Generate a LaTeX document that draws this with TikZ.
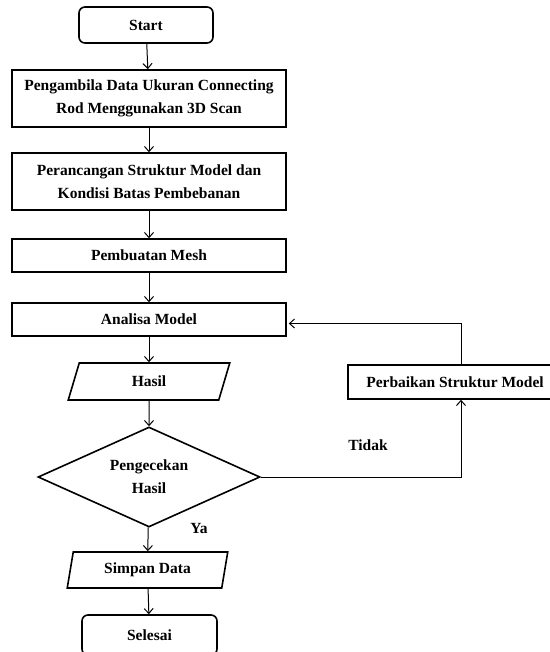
\documentclass[tikz,border=0pt]{standalone}
\usepackage{fontspec}
\setmainfont{Liberation Serif}
\usetikzlibrary{shapes.geometric,arrows.meta}

\tikzset{
  teks/.style={font=\fontsize{15.5}{23}\selectfont\bfseries, align=center},
  proses/.style={teks, draw, line width=1.6pt, minimum width=274pt, minimum height=33pt, inner sep=0pt},
  terminal/.style={proses, rounded corners=6pt, minimum width=134pt, minimum height=36pt},
  datanya/.style={teks, draw, line width=1.6pt, trapezium, trapezium left angle=76, trapezium right angle=104,
    trapezium stretches=true, minimum width=162pt, minimum height=37pt, inner sep=0pt},
  keputusan/.style={teks, draw, line width=1.6pt, diamond, shape aspect=2.2, minimum width=222pt, minimum height=100pt, inner sep=0pt},
  panah/.style={-{Straight Barb[length=5pt,width=9pt]}, line width=1pt}
}

\begin{document}
\begin{tikzpicture}[x=1pt,y=-1pt]

\useasboundingbox (0,0) rectangle (549,652);

\node[terminal] (start) at (146,25) {Start};
\node[proses, minimum height=57pt] (ambil) at (149,98.5) {Pengambila Data Ukuran Connecting\\Rod Menggunakan 3D Scan};
\node[proses, minimum height=57pt] (rancang) at (149,181.5) {Perancangan Struktur Model dan\\Kondisi Batas Pembebanan};
\node[proses] (mesh) at (149,255.5) {Pembuatan Mesh};
\node[proses] (analisa) at (149,319.5) {Analisa Model};
\node[datanya] (hasil) at (149,381.5) {Hasil};
\node[keputusan] (cek) at (149,477) {Pengecekan\\Hasil};
\node[datanya, minimum height=36pt] (simpan) at (147.5,570) {Simpan Data};
\node[terminal, minimum width=135pt, minimum height=40pt] (selesai) at (149.5,635) {Selesai};
\node[proses, minimum width=214pt, minimum height=34pt] (perbaikan) at (455,382) {Perbaikan Struktur Model};

\node[teks] (ya) at (199,528) {Ya};
\node[teks] (tidak) at (368,445) {Tidak};

% alur utama
\draw[panah] (start) -- (ambil);
\draw[panah] (ambil) -- (rancang);
\draw[panah] (rancang) -- (mesh);
\draw[panah] (mesh) -- (analisa);
\draw[panah] (analisa) -- (hasil);
\draw[panah] (hasil) -- (cek);
\draw[panah] (cek) -- (simpan);
\draw[panah] (simpan) -- (selesai);

% umpan balik
\draw[panah] (cek.east) -| ([xshift=6pt]perbaikan.south);
\draw[panah, shorten >=2pt] ([xshift=6pt]perbaikan.north) |- ([yshift=-4pt]analisa.east);

\end{tikzpicture}
\end{document}
